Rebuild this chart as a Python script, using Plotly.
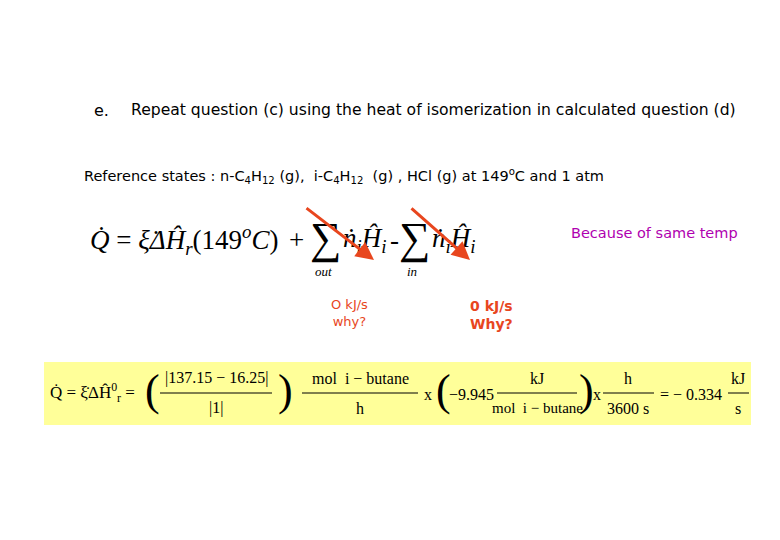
import plotly.graph_objects as go

TITLE = "Repeat question (c) using the heat of isomerization in calculated question (d)"
REF = "Reference states : n-C<sub>4</sub>H<sub>12</sub> (g),  i-C<sub>4</sub>H<sub>12</sub>  (g) , HCl (g) at 149<sup>o</sup>C and 1 atm"
NOTE = "Because of same temp"
ZERO1 = ["O kJ/s", "why?"]
ZERO2 = ["0 kJ/s", "Why?"]
NUMS = ["137.15 \u2212 16.25", "1", "\u22129.945", "3600 s", "\u2212 0.334"]

ORANGE = "#E8461E"
SERIF = "Liberation Serif"

fig = go.Figure()
ann = []

def txt(x, y, s, size=14, color="black", family=SERIF, xanchor="left", bold=False):
    if bold:
        s = "<b>" + s + "</b>"
    ann.append(dict(x=x, y=y, text=s, showarrow=False, xanchor=xanchor, yanchor="middle",
                    font=dict(size=size, color=color, family=family)))

txt(92, 110, "e.", 16, family="DejaVu Sans")
txt(129, 110, TITLE, 15.6, family="DejaVu Sans")
txt(82, 176, REF, 14.5, family="DejaVu Sans")
txt(740, 233, NOTE, 14.5, "#B000B0", "DejaVu Sans", xanchor="right")

# upper equation
txt(88, 240, "<i>Q̇</i> = <i>ξ̇ΔĤ<sub>r</sub></i>(149<sup><i>o</i></sup><i>C</i>)", 27)
txt(287, 240, "+", 27)
txt(325, 238, "\u2211", 44, xanchor="center")
txt(341, 240, "<i>ṅ<sub>i</sub>Ĥ<sub>i</sub></i>", 27)
txt(388, 240, "-", 27)
txt(414, 238, "\u2211", 44, xanchor="center")
txt(430, 240, "<i>ṅ<sub>i</sub>Ĥ<sub>i</sub></i>", 27)
txt(323, 271, "<i>out</i>", 13, xanchor="center")
txt(412, 271, "<i>in</i>", 13, xanchor="center")
for (x0, y0, x1, y1) in [(305, 207, 374, 260), (410, 207, 470, 260)]:
    ann.append(dict(x=x1, y=y1, ax=x0, ay=y0, xref="x", yref="y", axref="x", ayref="y",
                    showarrow=True, arrowhead=2, arrowsize=1.2, arrowwidth=3, arrowcolor=ORANGE, text=""))
txt(329, 313, "<br>".join(ZERO1), 13, ORANGE, "DejaVu Sans")
txt(468, 315, "<br>".join(ZERO2), 14, ORANGE, "DejaVu Sans", bold=True)

# yellow box equation
fig.add_shape(type="rect", x0=44, x1=751, y0=362, y1=425, fillcolor="#FFFF99", line_width=0, layer="below")
txt(48, 392, "Q̇ = ξ̇ΔĤ<sup>0</sup><sub>r</sub> =", 17)
txt(143, 390, "(", 44)
txt(216, 378, "|" + NUMS[0] + "|", 16, xanchor="center")
txt(216, 408, "|" + NUMS[1] + "|", 16, xanchor="center")
txt(276, 390, ")", 44)
txt(360, 378, "mol  i \u2212 butane", 16, xanchor="center")
txt(360, 408, "h", 16, xanchor="center")
txt(422, 394, "x", 16)
txt(434, 390, "(", 44)
txt(447, 394, NUMS[2], 16)
txt(537, 378, "kJ", 16, xanchor="center")
txt(537, 408, "mol  i \u2212 butane", 15, xanchor="center")
txt(577, 390, ")", 44)
txt(591, 394, "x", 16)
txt(628, 378, "h", 16, xanchor="center")
txt(628, 408, NUMS[3], 16, xanchor="center")
txt(658, 394, "= " + NUMS[4], 16)
txt(738, 378, "kJ", 16, xanchor="center")
txt(738, 408, "s", 16, xanchor="center")
for x0, x1 in [(160, 272), (302, 418), (497, 577), (603, 654), (728, 749)]:
    fig.add_shape(type="line", x0=x0, x1=x1, y0=393, y1=393, line=dict(color="black", width=1))

fig.update_layout(width=780, height=540, margin=dict(l=0, r=0, t=0, b=0),
                  paper_bgcolor="white", plot_bgcolor="white", annotations=ann, showlegend=False,
                  xaxis=dict(range=[8, 788], visible=False, fixedrange=True),
                  yaxis=dict(range=[548, 8], visible=False, fixedrange=True))
fig.write_html("out.html")
